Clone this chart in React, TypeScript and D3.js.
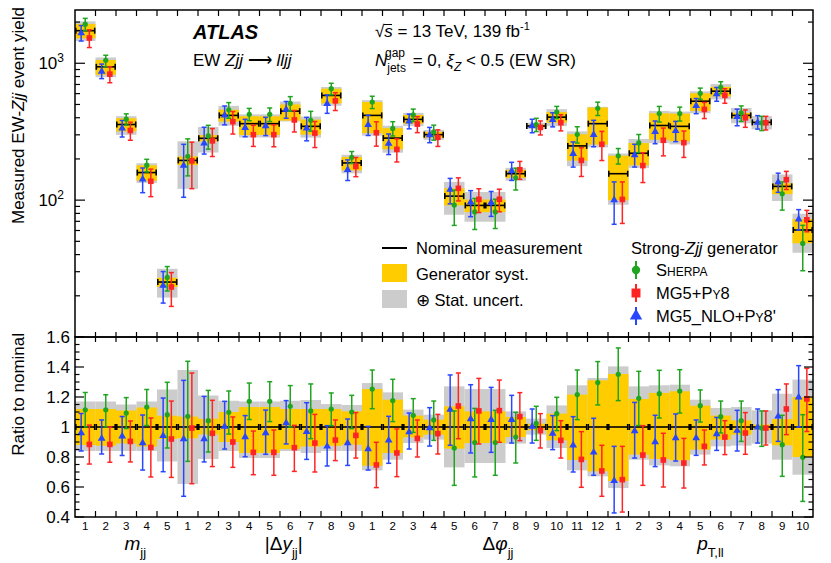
import React from 'react';
import * as d3 from 'd3';

// bins per observable: mjj, |dy_jj|, dphi_jj, pT,ll
const groupSizes = [5, 9, 12, 10];

// nominal measured EW-Zjj yield per bin
const nominal = [
  1730, 942, 357, 159, 25.2,
  195, 283, 416, 362, 362, 447, 346, 582, 187,
  416, 284, 389, 301, 107, 91.5, 91.5, 156, 348, 404, 249, 362,
  156, 220, 351, 346, 528, 625, 416, 370, 126, 60.5,
];

// generator syst. band (ratio to nominal)
const genUp = [
  1.12, 1.12, 1.11, 1.13, 1.075,
  1.07, 1.055, 1.1, 1.133, 1.133, 1.12, 1.12, 1.12, 1.104,
  1.253, 1.182, 1.076, 1.049, 1.138, 1.104, 1.104, 1.067, 1.022, 1.089, 1.216, 1.311,
  1.353, 1.187, 1.227, 1.238, 1.142, 1.076, 1.044, 1.016, 1.053, 1.2,
];
const genDn = [
  0.88, 0.875, 0.89, 0.87, 0.92,
  0.925, 0.95, 0.9, 0.827, 0.827, 0.853, 0.87, 0.875, 0.882,
  0.742, 0.827, 0.931, 0.949, 0.856, 0.893, 0.893, 0.933, 0.978, 0.911, 0.78, 0.704,
  0.64, 0.816, 0.787, 0.778, 0.849, 0.916, 0.949, 0.982, 0.878, 0.8,
];
// generator syst. (+) stat. band
const totUp = [
  1.17, 1.17, 1.15, 1.17, 1.25,
  1.38, 1.21, 1.175, 1.17, 1.17, 1.175, 1.18, 1.153, 1.147,
  1.293, 1.231, 1.116, 1.082, 1.271, 1.253, 1.253, 1.104, 1.056, 1.144, 1.278, 1.327,
  1.404, 1.271, 1.278, 1.282, 1.182, 1.127, 1.133, 1.111, 1.222, 1.316,
];
const totDn = [
  0.84, 0.84, 0.84, 0.84, 0.77,
  0.62, 0.787, 0.84, 0.793, 0.793, 0.84, 0.827, 0.84, 0.84,
  0.711, 0.782, 0.893, 0.916, 0.731, 0.76, 0.76, 0.889, 0.949, 0.86, 0.711, 0.671,
  0.593, 0.782, 0.744, 0.738, 0.816, 0.871, 0.876, 0.889, 0.782, 0.682,
];

// Sherpa (green)
const sherpa = [
  1.115, 1.115, 1.093, 1.133, 1.082,
  1.071, 1.042, 1.098, 1.171, 1.171, 1.138, 1.107, 1.12, 1.1,
  1.253, 1.176, 1.078, 1.047, 0.86, 0.896, 0.896, 0.933, 1.024, 1.089, 1.216, 1.296,
  1.351, 1.191, 1.222, 1.24, 1.142, 1.069, 1.042, 0.993, 0.882, 0.798,
];
const sherpaHi = [
  1.23, 1.215, 1.196, 1.25, 1.298,
  1.438, 1.244, 1.24, 1.293, 1.302, 1.276, 1.287, 1.227, 1.211,
  1.38, 1.318, 1.189, 1.173, 1.107, 1.124, 1.111, 1.098, 1.138, 1.198, 1.38, 1.436,
  1.527, 1.371, 1.378, 1.382, 1.247, 1.173, 1.173, 1.107, 1.078, 1.082,
];
const sherpaLo = [
  1.0, 1.0, 0.99, 1.01, 0.86,
  0.771, 0.833, 0.953, 1.05, 1.036, 1.0, 0.922, 1.009, 0.989,
  1.122, 1.036, 0.964, 0.911, 0.611, 0.667, 0.678, 0.76, 0.911, 0.976, 1.049, 1.147,
  1.176, 1.01, 1.06, 1.093, 1.033, 0.96, 0.904, 0.871, 0.671, 0.504,
];

// MG5+Py8 (red)
const mg5 = [
  0.884, 0.884, 0.904, 0.864, 0.92,
  0.993, 0.958, 0.9, 0.831, 0.831, 0.862, 0.893, 0.913, 0.944,
  0.747, 0.827, 0.924, 0.956, 1.14, 1.107, 1.109, 1.069, 0.976, 0.911, 0.784, 0.707,
  0.649, 0.813, 0.78, 0.76, 0.871, 0.933, 0.96, 0.993, 1.12, 1.187,
];
const mg5Hi = [
  1.013, 1.0, 1.04, 1.06, 1.173,
  1.36, 1.178, 1.067, 0.973, 0.98, 1.011, 1.084, 1.047, 1.096,
  0.898, 0.987, 1.047, 1.084, 1.36, 1.324, 1.313, 1.229, 1.089, 1.042, 0.969, 0.878,
  0.871, 1.009, 0.958, 0.924, 0.98, 1.042, 1.096, 1.107, 1.287, 1.391,
];
const mg5Lo = [
  0.753, 0.765, 0.767, 0.667, 0.664,
  0.622, 0.736, 0.731, 0.682, 0.678, 0.704, 0.7, 0.776, 0.793,
  0.596, 0.669, 0.8, 0.82, 0.922, 0.887, 0.898, 0.909, 0.86, 0.793, 0.598, 0.538,
  0.433, 0.611, 0.6, 0.593, 0.747, 0.816, 0.818, 0.88, 0.949, 0.97,
];

// MG5_NLO+Py8' (blue)
const nlo = [
  0.96, 0.924, 0.938, 0.893, 0.942,
  0.92, 0.92, 1.004, 0.933, 0.96, 1.027, 0.969, 0.871, 0.893,
  0.853, 0.911, 0.967, 0.993, 1.116, 1.053, 1.049, 1.049, 1.004, 0.956, 0.878, 0.831,
  0.642, 0.973, 0.9, 0.927, 0.927, 0.953, 0.976, 0.998, 1.071, 1.198,
];
const nloHi = [
  1.09, 1.047, 1.07, 1.08, 1.193,
  1.311, 1.204, 1.171, 1.076, 1.113, 1.176, 1.162, 1.009, 1.053,
  1.004, 1.071, 1.093, 1.129, 1.347, 1.282, 1.264, 1.211, 1.12, 1.076, 1.069, 1.058,
  0.871, 1.164, 1.078, 1.087, 1.047, 1.064, 1.111, 1.12, 1.249, 1.409,
];
const nloLo = [
  0.84, 0.82, 0.81, 0.713, 0.702,
  0.538, 0.767, 0.853, 0.802, 0.818, 0.887, 0.784, 0.74, 0.744,
  0.713, 0.758, 0.853, 0.873, 0.878, 0.827, 0.831, 0.893, 0.893, 0.849, 0.7, 0.678,
  0.427, 0.793, 0.736, 0.773, 0.811, 0.844, 0.84, 0.893, 0.904, 1.0,
];

const W = 831;
const H = 563;
const L = 75;
const R = 813;
const T = 10;
const M = 337;
const B = 517;
const font = "'Liberation Sans', Arial, Helvetica, sans-serif";

const YELLOW = '#ffcc00';
const GREY = '#cccccc';
const GREEN = '#1fa51f';
const RED = '#ff2424';
const BLUE = '#2846ff';

type Series = { r: number[]; hi: number[]; lo: number[]; color: string; shape: string; off: number };
const series: Series[] = [
  { r: nlo, hi: nloHi, lo: nloLo, color: BLUE, shape: 'tri', off: -0.2 },
  { r: sherpa, hi: sherpaHi, lo: sherpaLo, color: GREEN, shape: 'circle', off: 0 },
  { r: mg5, hi: mg5Hi, lo: mg5Lo, color: RED, shape: 'square', off: 0.2 },
];

const nBins = nominal.length;
const x = d3.scaleLinear().domain([0, nBins]).range([L, R]);
const bw = x(1) - x(0);
const yTop = d3.scaleLog().domain([10, 2450]).range([M, T]);
const yRat = d3.scaleLinear().domain([0.4, 1.6]).range([B, M]);

// group boundaries
const groupEdges = d3.cumsum(groupSizes);
const binLabels: string[] = groupSizes.flatMap((n) => d3.range(1, n + 1).map(String));

const triPath = d3.symbol(d3.symbolTriangle).size(26)()!;

function Marker({ cx, cy, shape, color, s = 1 }: { cx: number; cy: number; shape: string; color: string; s?: number }) {
  if (shape === 'circle') return <circle cx={cx} cy={cy} r={2.6 * s} fill={color} />;
  if (shape === 'square') return <rect x={cx - 2.8 * s} y={cy - 2.8 * s} width={5.6 * s} height={5.6 * s} fill={color} />;
  return <path d={triPath} transform={`translate(${cx},${cy}) scale(${s})`} fill={color} />;
}

function ErrBar({ cx, y, yHi, yLo, color, shape }: { cx: number; y: number; yHi: number; yLo: number; color: string; shape: string }) {
  return (
    <g>
      <line x1={cx} x2={cx} y1={yHi} y2={yLo} stroke={color} strokeWidth={1.5} />
      <line x1={cx - 2.5} x2={cx + 2.5} y1={yHi} y2={yHi} stroke={color} strokeWidth={1.5} />
      <line x1={cx - 2.5} x2={cx + 2.5} y1={yLo} y2={yLo} stroke={color} strokeWidth={1.5} />
      <Marker cx={cx} cy={y} shape={shape} color={color} />
    </g>
  );
}

function Panel({ top }: { top: boolean }) {
  const yv = (i: number, r: number) => (top ? yTop(nominal[i] * r) : yRat(r));
  return (
    <g>
      {nominal.map((_, i) => (
        <rect key={'g' + i} x={x(i)} width={bw} y={yv(i, totUp[i])} height={yv(i, totDn[i]) - yv(i, totUp[i])} fill={GREY} />
      ))}
      {nominal.map((_, i) => (
        <rect key={'y' + i} x={x(i)} width={bw} y={yv(i, genUp[i])} height={yv(i, genDn[i]) - yv(i, genUp[i])} fill={YELLOW} />
      ))}
      {nominal.map((_, i) => (
        <g key={'n' + i} stroke="#000" strokeWidth={1.6}>
          <line x1={x(i) + 0.5} x2={x(i + 1) - 0.5} y1={yv(i, 1)} y2={yv(i, 1)} />
          <line x1={x(i) + 0.8} x2={x(i) + 0.8} y1={yv(i, 1) - 3} y2={yv(i, 1) + 3} />
          <line x1={x(i + 1) - 0.8} x2={x(i + 1) - 0.8} y1={yv(i, 1) - 3} y2={yv(i, 1) + 3} />
        </g>
      ))}
      {series.map((s) =>
        nominal.map((_, i) => (
          <ErrBar
            key={s.color + i}
            cx={x(i + 0.5 + s.off)}
            y={yv(i, s.r[i])}
            yHi={yv(i, s.hi[i])}
            yLo={yv(i, s.lo[i])}
            color={s.color}
            shape={s.shape}
          />
        ))
      )}
    </g>
  );
}

export default function App() {
  const edges = d3.range(0, nBins + 1);
  const logMajor = [100, 1000];
  const logMinor = [2, 3, 4, 5, 6, 7, 8, 9]
    .flatMap((m) => [10 * m, 100 * m, 1000 * m])
    .filter((v) => v < 2450);
  const ratTicks = d3.range(0, 25).map((k) => 0.4 + k * 0.05);
  const ratMajor = d3.range(0, 7).map((k) => 0.4 + k * 0.2);

  const groupCenters = groupSizes.map((n, g) => x((groupEdges[g] - n + groupEdges[g]) / 2));
  const txt = { fontFamily: font, fill: '#000' };

  return (
    <div style={{ position: 'absolute', left: 0, top: 0 }}>
      <svg width={W} height={H} style={{ display: 'block', background: '#fff' }}>
        {/* separators */}
        {groupEdges.slice(0, -1).map((e) => (
          <line key={e} x1={x(e)} x2={x(e)} y1={T + 2} y2={H} stroke="#c8c8c8" strokeWidth={2} strokeDasharray="7,5" />
        ))}

        <Panel top={true} />
        <Panel top={false} />

        {/* frames */}
        <rect x={L} y={T} width={R - L} height={M - T} fill="none" stroke="#000" strokeWidth={1.5} />
        <rect x={L} y={M} width={R - L} height={B - M} fill="none" stroke="#000" strokeWidth={1.5} />

        {/* bin edge ticks */}
        {edges.slice(1, -1).map((e) => (
          <g key={e} stroke="#000" strokeWidth={1.2}>
            <line x1={x(e)} x2={x(e)} y1={T} y2={T + 6} />
            <line x1={x(e)} x2={x(e)} y1={M - 5} y2={M + 5} />
            <line x1={x(e)} x2={x(e)} y1={B} y2={B - 6} />
          </g>
        ))}

        {/* log axis ticks */}
        {logMajor.map((v) => (
          <g key={v} stroke="#000" strokeWidth={1.2}>
            <line x1={L} x2={L + 10} y1={yTop(v)} y2={yTop(v)} />
            <line x1={R} x2={R - 10} y1={yTop(v)} y2={yTop(v)} />
          </g>
        ))}
        {logMinor.map((v) => (
          <g key={v} stroke="#000" strokeWidth={1.2}>
            <line x1={L} x2={L + 5} y1={yTop(v)} y2={yTop(v)} />
            <line x1={R} x2={R - 5} y1={yTop(v)} y2={yTop(v)} />
          </g>
        ))}
        {logMajor.map((v) => (
          <text key={v} x={L - 11} y={yTop(v) + 6} textAnchor="end" fontSize={17} {...txt}>
            10<tspan dy={-7} fontSize={12}>{Math.round(Math.log10(v))}</tspan>
          </text>
        ))}

        {/* ratio axis ticks */}
        {ratTicks.map((v, k) => (
          <g key={k} stroke="#000" strokeWidth={1.2}>
            <line x1={L} x2={L + (k % 4 === 0 ? 9 : 4.5)} y1={yRat(v)} y2={yRat(v)} />
            <line x1={R} x2={R - (k % 4 === 0 ? 9 : 4.5)} y1={yRat(v)} y2={yRat(v)} />
          </g>
        ))}
        {ratMajor.map((v) => (
          <text key={v} x={L - 5} y={yRat(v) + 6} textAnchor="end" fontSize={17} {...txt}>
            {Math.abs(v - 1) < 1e-6 ? '1' : d3.format('.1f')(v)}
          </text>
        ))}

        {/* axis titles */}
        <text transform={`translate(24,7) rotate(-90)`} textAnchor="end" fontSize={17} {...txt}>
          Measured EW-<tspan fontStyle="italic">Zjj</tspan> event yield
        </text>
        <text transform={`translate(24,333) rotate(-90)`} textAnchor="end" fontSize={17} {...txt}>
          Ratio to nominal
        </text>

        {/* bin numbers */}
        {binLabels.map((lab, i) => (
          <text key={i} x={x(i + 0.5)} y={529.5} textAnchor="middle" fontSize={11.5} {...txt}>
            {lab}
          </text>
        ))}

        {/* observable labels */}
        <text x={groupCenters[0] + 9} y={550} textAnchor="middle" fontSize={19} {...txt}>
          <tspan fontStyle="italic">m</tspan>
          <tspan fontSize={13} dy={7}>jj</tspan>
        </text>
        <text x={groupCenters[1] + 14} y={550} textAnchor="middle" fontSize={19} {...txt}>
          |Δ<tspan fontStyle="italic">y</tspan>
          <tspan fontSize={13} dy={7}>jj</tspan>
          <tspan dy={-7}>|</tspan>
        </text>
        <text x={groupCenters[2] + 13} y={550} textAnchor="middle" fontSize={19} {...txt}>
          Δ<tspan fontStyle="italic">φ</tspan>
          <tspan fontSize={13} dy={7}>jj</tspan>
        </text>
        <text x={groupCenters[3]} y={550} textAnchor="middle" fontSize={19} {...txt}>
          <tspan fontStyle="italic">p</tspan>
          <tspan fontSize={13} dy={7}>T,ll</tspan>
        </text>

        {/* labels */}
        <text x={193} y={39} fontSize={20} fontWeight="bold" fontStyle="italic" {...txt}>
          ATLAS
        </text>
        <text x={193} y={66} fontSize={17} {...txt}>
          EW <tspan fontStyle="italic">Zjj</tspan> ⟶ <tspan fontStyle="italic">lljj</tspan>
        </text>
        <text x={375} y={37} fontSize={17} {...txt}>
          √<tspan fontStyle="italic">s</tspan> = 13 TeV, 139 fb<tspan dy={-7} fontSize={11}>-1</tspan>
        </text>
        <line x1={384} x2={392} y1={24.5} y2={24.5} stroke="#000" strokeWidth={1} />
        <text x={375} y={66} fontSize={17} {...txt}>
          <tspan fontStyle="italic">N</tspan>
          <tspan fontSize={12} dy={6}>jets</tspan>
          <tspan fontSize={12} dx={-21} dy={-15}>gap</tspan>
          <tspan dy={9} dx={3}> = 0, </tspan>
          <tspan fontStyle="italic">ξ</tspan>
          <tspan fontSize={12} dy={5} fontStyle="italic">Z</tspan>
          <tspan dy={-5}> &lt; 0.5 (EW SR)</tspan>
        </text>

        {/* legend left */}
        <line x1={382} x2={407} y1={248} y2={248} stroke="#000" strokeWidth={2} />
        <text x={416} y={254} fontSize={16.5} {...txt}>Nominal measurement</text>
        <rect x={382} y={264} width={25} height={18} fill={YELLOW} />
        <text x={416} y={280} fontSize={16.5} {...txt}>Generator syst.</text>
        <rect x={382} y={290} width={25} height={18} fill={GREY} />
        <text x={416} y={306} fontSize={16.5} {...txt}>⊕ Stat. uncert.</text>

        {/* legend right */}
        <text x={631} y={254} fontSize={16.5} {...txt}>
          Strong-<tspan fontStyle="italic">Zjj</tspan> generator
        </text>
        {[
          { c: GREEN, s: 'circle', y: 270 },
          { c: RED, s: 'square', y: 293 },
          { c: BLUE, s: 'tri', y: 316 },
        ].map((m) => (
          <g key={m.c}>
            <line x1={636} x2={636} y1={m.y - 9} y2={m.y + 9} stroke={m.c} strokeWidth={2} />
            <Marker cx={636} cy={m.y} shape={m.s} color={m.c} s={1.6} />
          </g>
        ))}
        <text x={656} y={276} fontSize={16.5} {...txt}>
          S<tspan fontSize={12}>HERPA</tspan>
        </text>
        <text x={656} y={299} fontSize={16.5} {...txt}>
          MG5+P<tspan fontSize={12}>Y</tspan>8
        </text>
        <text x={656} y={322} fontSize={16.5} {...txt}>
          MG5_NLO+P<tspan fontSize={12}>Y</tspan>8'
        </text>
      </svg>
    </div>
  );
}
